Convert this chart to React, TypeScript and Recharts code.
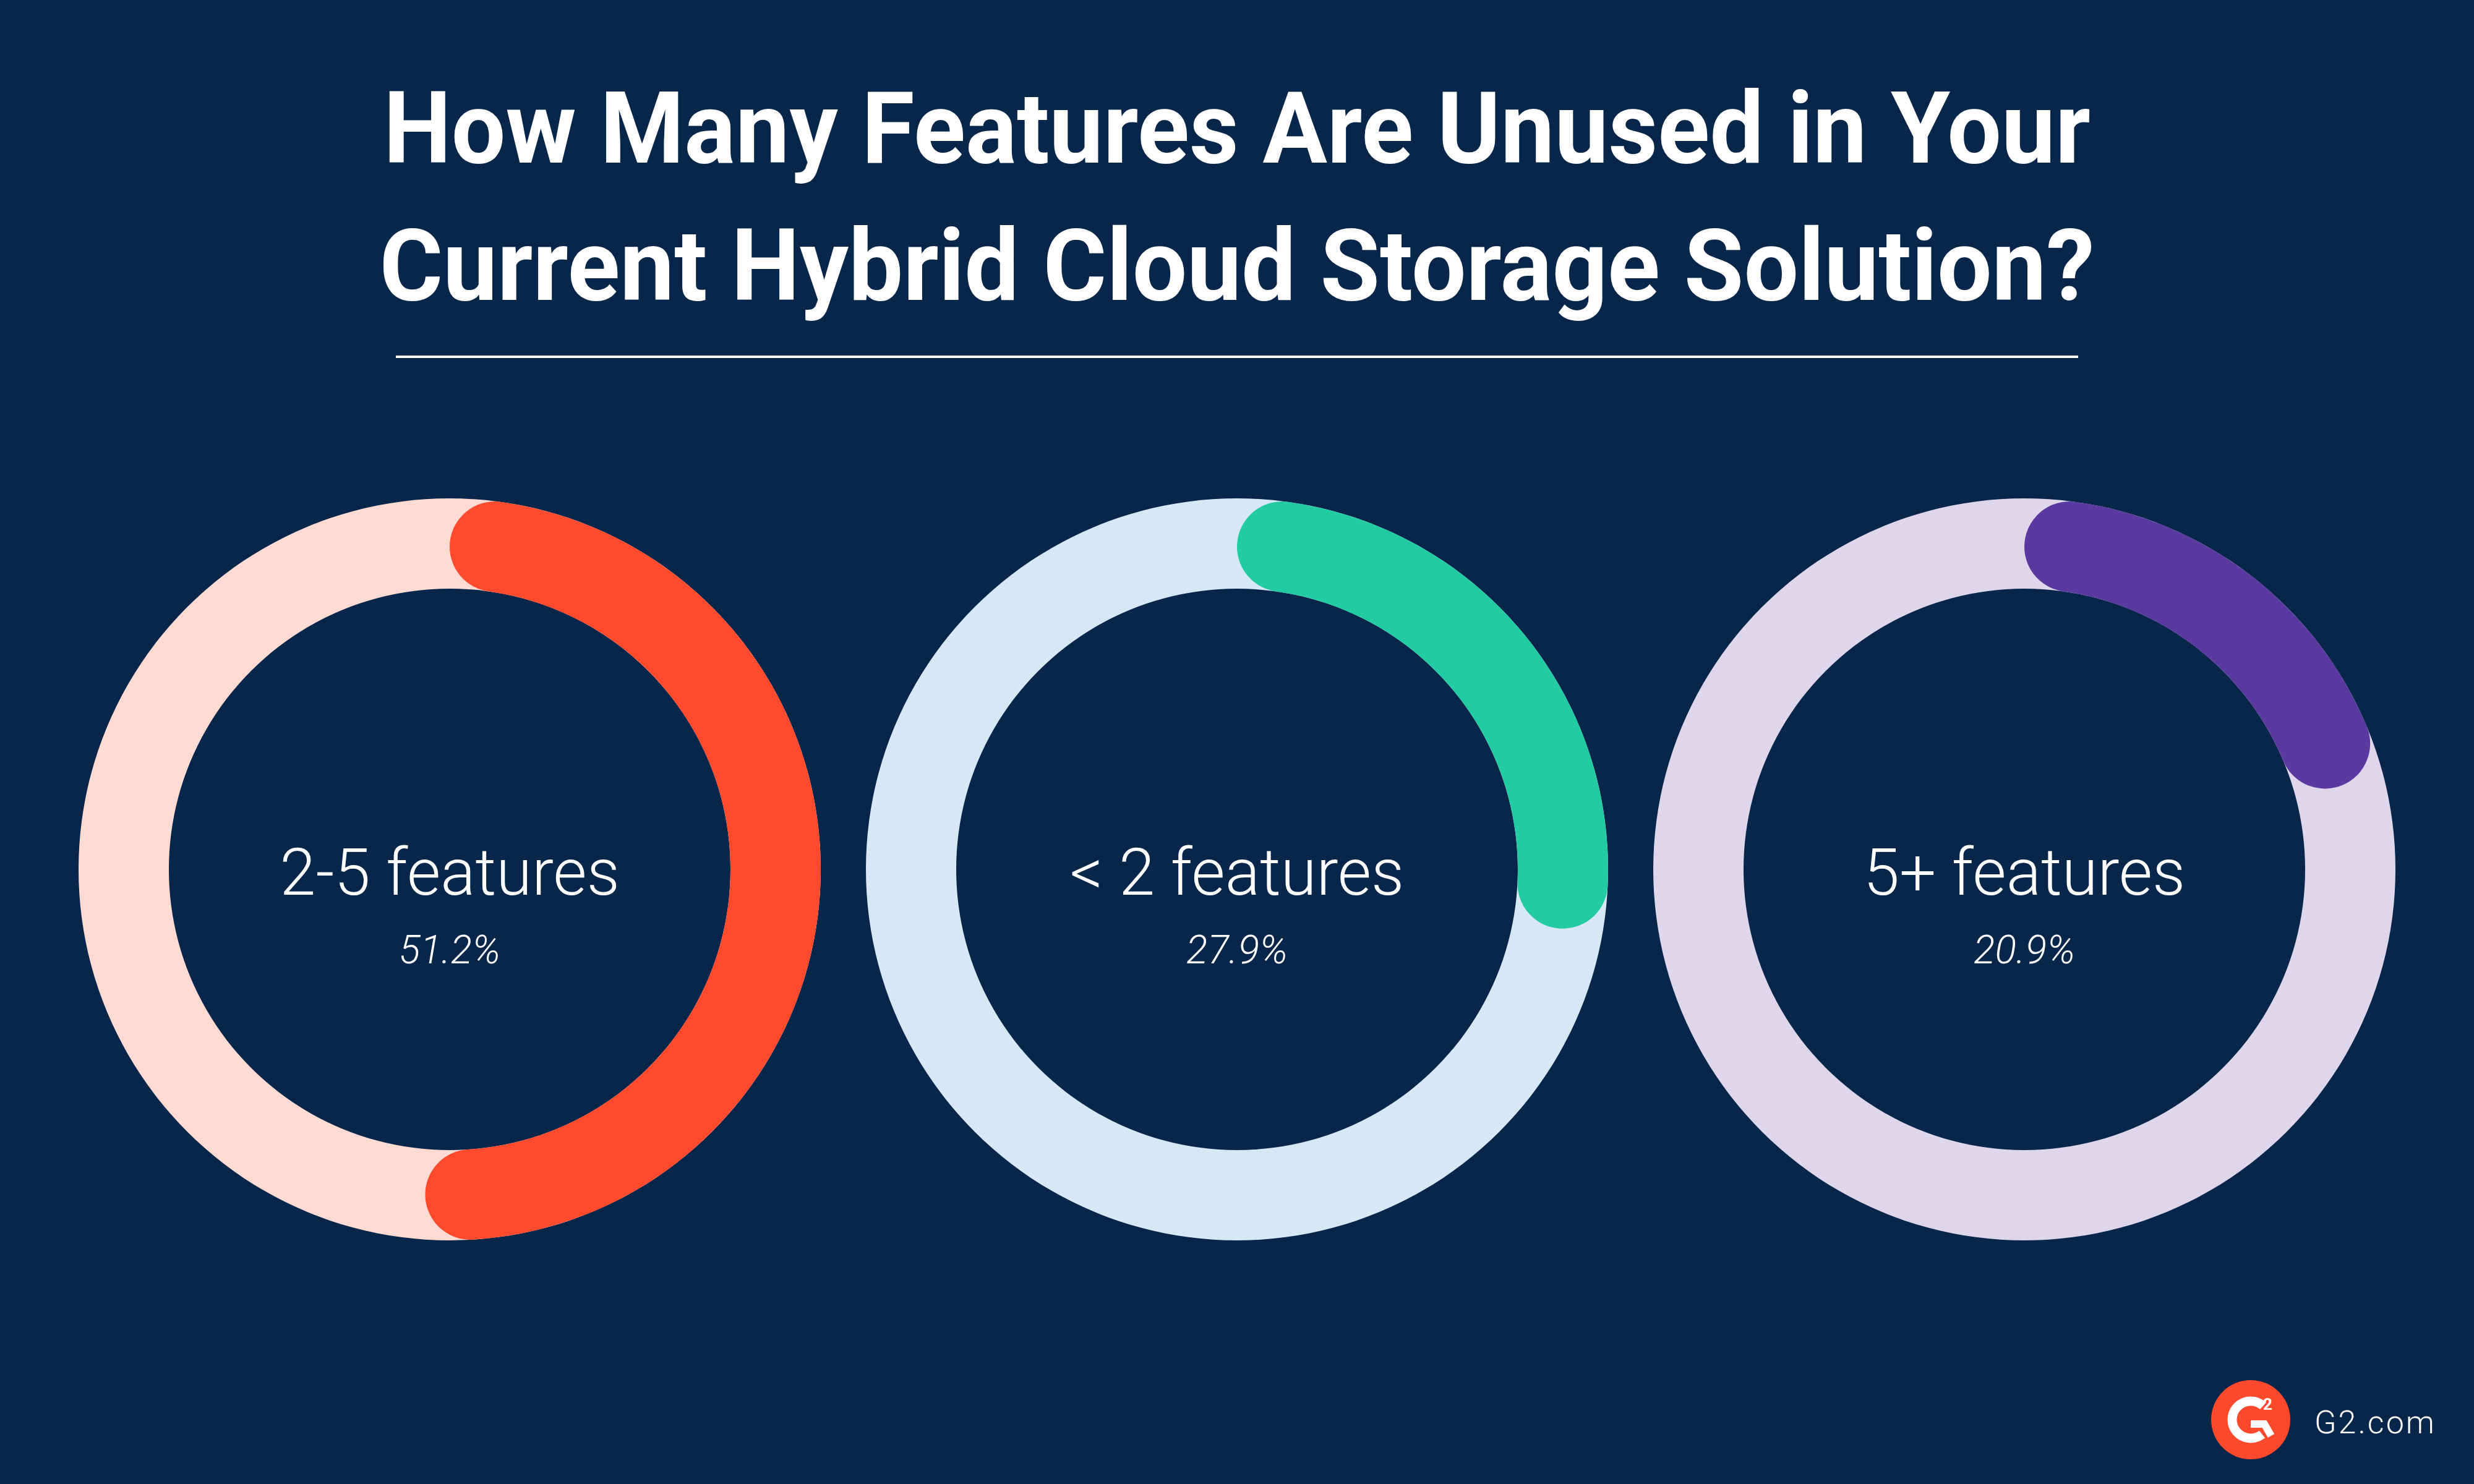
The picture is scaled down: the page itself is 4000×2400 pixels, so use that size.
import React from 'react';
import { PieChart, Pie, Cell } from 'recharts';

const titleLines = ['How Many Features Are Unused in Your', 'Current Hybrid Cloud Storage Solution?'];
const categories = ['2-5 features', '< 2 features', '5+ features'];
const shares = [51.2, 27.9, 20.9];
const shareLabels = ['51.2%', '27.9%', '20.9%'];
const ringColors = ['#FF4A2E', '#23CBA3', '#5A3AA1'];
const trackColors = ['#FFDBD4', '#D6E8F5', '#DED7EB'];
const sourceLabel = 'G2.com';

const W = 4000;
const H = 2400;
const BG = '#08264A';
const centersX = [727, 2000, 3273];
const CY = 1406;
const INNER = 454;
const OUTER = 600;
const titleWidths = [2760, 2773];

const G2Logo = () => {
  const cx = 3639;
  const cy = 2296;
  const r = 30;
  const a0 = (-48 * Math.PI) / 180;
  const a1 = (52 * Math.PI) / 180;
  const p0 = [cx + r * Math.cos(a0), cy + r * Math.sin(a0)];
  const p1 = [cx + r * Math.cos(a1), cy + r * Math.sin(a1)];
  return (
    <g>
      <circle cx={cx} cy={cy} r={64} fill="#FF492C" />
      <path
        d={`M ${p0[0]} ${p0[1]} A ${r} ${r} 0 1 0 ${p1[0]} ${p1[1]}`}
        fill="none"
        stroke="#fff"
        strokeWidth={15}
      />
      <path d={`M ${cx} ${cy + 7} L ${cx + 22} ${cy + 7} L ${cx + 33} ${cy + 26}`} fill="none" stroke="#fff" strokeWidth={12} strokeLinejoin="miter" />
      <text x={cx + 20} y={cy - 16} fill="#fff" fontSize={26} fontWeight={700} fontFamily="Roboto, sans-serif">2</text>
    </g>
  );
};

export default function App() {
  return (
    <div style={{ position: 'absolute', left: 0, top: 0, width: W, height: H, background: BG, overflow: 'hidden' }}>
      <PieChart
        width={W}
        height={H}
        margin={{ top: 0, right: 0, bottom: 0, left: 0 }}
        style={{ position: 'absolute', left: 0, top: 0 }}
      >
        {categories.map((cat, i) => (
          <Pie
            key={`track-${i}`}
            data={[{ name: cat, value: 100 }]}
            dataKey="value"
            cx={centersX[i]}
            cy={CY}
            innerRadius={INNER}
            outerRadius={OUTER}
            startAngle={90}
            endAngle={-270}
            stroke="none"
            fill={trackColors[i]}
            isAnimationActive={false}
          />
        ))}
        {categories.map((cat, i) => (
          <Pie
            key={`ring-${i}`}
            data={[
              { name: cat, value: shares[i] },
              { name: 'rest', value: 100 - shares[i] },
            ]}
            dataKey="value"
            cx={centersX[i]}
            cy={CY}
            innerRadius={INNER}
            outerRadius={OUTER}
            startAngle={90}
            endAngle={-270}
            cornerRadius={73}
            stroke="none"
            isAnimationActive={false}
          >
            <Cell fill={ringColors[i]} />
            <Cell fill="transparent" />
          </Pie>
        ))}
      </PieChart>
      <svg width={W} height={H} style={{ position: 'absolute', left: 0, top: 0, pointerEvents: 'none' }}>
        {titleLines.map((line, i) => (
          <text
            key={line}
            x={2000}
            y={263 + i * 222}
            textAnchor="middle"
            fill="#fff"
            fontSize={162}
            fontWeight={700}
            fontFamily="Roboto, sans-serif"
            textLength={titleWidths[i]}
            lengthAdjust="spacingAndGlyphs"
          >
            {line}
          </text>
        ))}
        <line x1={640} x2={3360} y1={577} y2={577} stroke="#fff" strokeWidth={4} />
        {categories.map((cat, i) => (
          <g key={`lbl-${i}`}>
            <text x={centersX[i]} y={CY + 41} textAnchor="middle" fill="#fff" fontSize={105} fontWeight={300} fontFamily="Roboto, sans-serif">
              {cat}
            </text>
            <text x={centersX[i]} y={CY + 152} textAnchor="middle" fill="#fff" fontSize={64} fontWeight={300} fontStyle="italic" fontFamily="Roboto, sans-serif">
              {shareLabels[i]}
            </text>
          </g>
        ))}
        <G2Logo />
        <text x={3742} y={2318} fill="#fff" fontSize={52} fontWeight={300} letterSpacing={3} fontFamily="Roboto, sans-serif">
          {sourceLabel}
        </text>
      </svg>
    </div>
  );
}
